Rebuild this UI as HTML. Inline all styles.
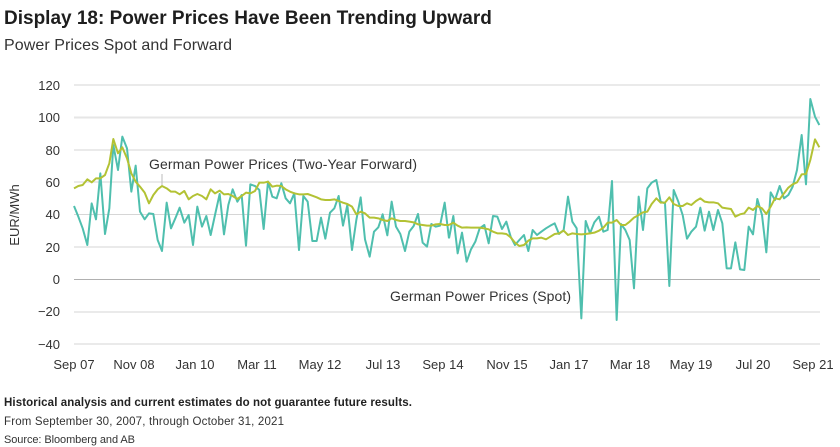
<!DOCTYPE html>
<html><head><meta charset="utf-8"><style>
body{margin:0;background:#fff;font-family:"Liberation Sans",sans-serif;}
svg{display:block}
</style></head><body>
<svg width="840" height="447" viewBox="0 0 840 447" xmlns="http://www.w3.org/2000/svg" font-family="Liberation Sans, sans-serif">
<text x="4" y="24" font-size="19" font-weight="bold" fill="#1e1e1e">Display 18: Power Prices Have Been Trending Upward</text>
<text x="4" y="50" font-size="16" fill="#333" textLength="228">Power Prices Spot and Forward</text>
<g stroke="#d6d6d6" stroke-width="1">
<line x1="74" x2="820" y1="85" y2="85"/>
<line x1="74" x2="820" y1="117.5" y2="117.5" stroke="#e6e6e6" stroke-width="2"/>
<line x1="74" x2="820" y1="150" y2="150"/>
<line x1="74" x2="820" y1="182" y2="182"/>
<line x1="74" x2="820" y1="214.5" y2="214.5"/>
<line x1="74" x2="820" y1="247" y2="247"/>
<line x1="74" x2="820" y1="279.5" y2="279.5" stroke="#b0b0b0"/>
<line x1="74" x2="820" y1="312" y2="312"/>
<line x1="74" x2="820" y1="344" y2="344"/>
</g>
<g font-size="13" fill="#333" text-anchor="end">
<text x="60" y="90">120</text><text x="60" y="122">100</text><text x="60" y="155">80</text>
<text x="60" y="187">60</text><text x="60" y="219">40</text><text x="60" y="252">20</text>
<text x="60" y="284">0</text><text x="60" y="316">−20</text><text x="60" y="349">−40</text>
</g>
<text transform="translate(19,215) rotate(-90)" font-size="13" fill="#333" text-anchor="middle">EUR/MWh</text>
<g font-size="13" fill="#333" text-anchor="middle">
<text x="74" y="369">Sep 07</text><text x="134" y="369">Nov 08</text><text x="195" y="369">Jan 10</text>
<text x="257" y="369">Mar 11</text><text x="320" y="369">May 12</text><text x="383" y="369">Jul 13</text>
<text x="443" y="369">Sep 14</text><text x="507" y="369">Nov 15</text><text x="569" y="369">Jan 17</text>
<text x="630" y="369">Mar 18</text><text x="691" y="369">May 19</text><text x="753" y="369">Jul 20</text>
<text x="813" y="369">Sep 21</text>
</g>
<g fill="none" stroke-width="2" stroke-linejoin="round">
<polyline vector-effect="non-scaling-stroke" transform="translate(60,80) scale(0.33333)" stroke="#4fbfae" points="42,378 55,410 68,445 82,495 95,370 108,418 121,280 135,462 148,385 160,195 174,270 187,170 201,205 214,335 227,257 240,395 254,418 267,400 280,402 293,480 306,513 320,368 333,445 346,415 359,383 373,428 386,405 399,495 412,380 426,440 439,408 452,465 465,405 479,342 492,463 505,375 518,328 532,365 545,345 558,497 571,313 585,318 598,330 611,447 624,305 637,350 650,355 664,310 677,355 690,370 703,340 717,510 730,348 743,365 757,483 770,483 783,413 796,476 810,398 823,385 836,348 849,437 862,375 876,510 889,420 902,352 915,478 929,530 942,455 955,442 968,403 982,466 995,365 1008,440 1021,462 1035,513 1048,455 1061,438 1074,402 1088,488 1101,500 1114,432 1127,440 1140,437 1154,368 1167,475"/>
<polyline vector-effect="non-scaling-stroke" transform="translate(440,80) scale(0.33333)" stroke="#4fbfae" points="27,475 40,408 53,520 66,458 80,545 93,508 106,485 119,445 133,435 146,490 159,408 172,410 186,447 199,425 212,470 225,495 238,480 252,465 265,513 278,450 291,465 304,455 318,445 331,437 344,430 357,462 371,450 384,350 397,425 410,445 424,715 437,423 450,460 463,427 477,410 490,455 503,450 516,303 530,720 543,432 556,450 569,480 582,625 596,350 609,450 622,325 635,308 649,300 662,365 675,370 688,618 701,330 715,365 728,405 741,476 754,455 768,440 781,383 794,452 807,395 820,450 834,390 847,430 860,565 873,565 886,487 900,568 913,570 926,440 939,463 952,357 966,405 979,517 992,337 1005,360 1019,318 1032,355 1045,345 1058,320 1071,270 1085,165 1098,313 1111,57 1125,110 1138,135"/>
<polyline vector-effect="non-scaling-stroke" transform="translate(60,80) scale(0.33333)" stroke="#b3c234" points="42,325 55,318 68,315 82,298 95,307 108,295 121,295 135,285 148,250 160,177 174,220 187,202 201,235 214,280 227,305 240,320 254,338 267,370 280,345 293,328 306,318 320,325 333,335 346,335 359,343 373,333 386,358 399,348 412,342 426,348 439,358 452,328 465,340 479,332 492,343 505,342 518,348 532,357 545,348 558,338 571,340 585,333 598,308 611,308 624,305 637,320 650,317 664,318 677,328 690,335 703,340 717,343 730,343 743,342 757,347 770,352 783,358 796,360 810,360 823,358 836,363 849,368 862,372 876,380 889,403 902,395 915,400 929,413 942,413 955,415 968,420 982,423 995,415 1008,420 1021,423 1035,423 1048,425 1061,427 1074,433 1088,435 1101,437 1114,437 1127,433 1140,432 1154,435 1167,435"/>
<polyline vector-effect="non-scaling-stroke" transform="translate(440,80) scale(0.33333)" stroke="#b3c234" points="27,435 40,428 53,437 66,443 80,442 93,443 106,443 119,443 133,445 146,448 159,455 172,460 186,460 199,462 212,472 225,488 238,498 252,495 265,482 278,475 291,475 304,473 318,478 331,470 344,462 357,460 371,452 384,465 397,460 410,462 424,463 437,462 450,460 463,458 477,452 490,443 503,428 516,428 530,420 543,435 556,435 569,425 582,413 596,405 609,397 622,395 635,372 649,355 662,368 675,368 688,352 701,372 715,378 728,378 741,370 754,375 768,363 781,355 794,365 807,367 820,367 834,370 847,383 860,385 873,387 886,410 900,403 913,400 926,383 939,390 952,378 966,385 979,402 992,380 1005,355 1019,358 1032,340 1045,323 1058,313 1071,307 1085,283 1098,282 1111,240 1125,178 1138,202"/>
</g>
<line x1="162" y1="174" x2="162" y2="185" stroke="#bbb" stroke-width="1"/>
<text x="149" y="169" font-size="14" fill="#333" textLength="268">German Power Prices (Two-Year Forward)</text>
<text x="390" y="301" font-size="14" fill="#333" textLength="181">German Power Prices (Spot)</text>
<text x="4" y="406" font-size="11.5" font-weight="bold" fill="#222" textLength="408">Historical analysis and current estimates do not guarantee future results.</text>
<text x="4" y="425" font-size="11.5" fill="#333" textLength="280">From September 30, 2007, through October 31, 2021</text>
<text x="4" y="443" font-size="11" fill="#333" textLength="131">Source: Bloomberg and AB</text>
</svg>
</body></html>
